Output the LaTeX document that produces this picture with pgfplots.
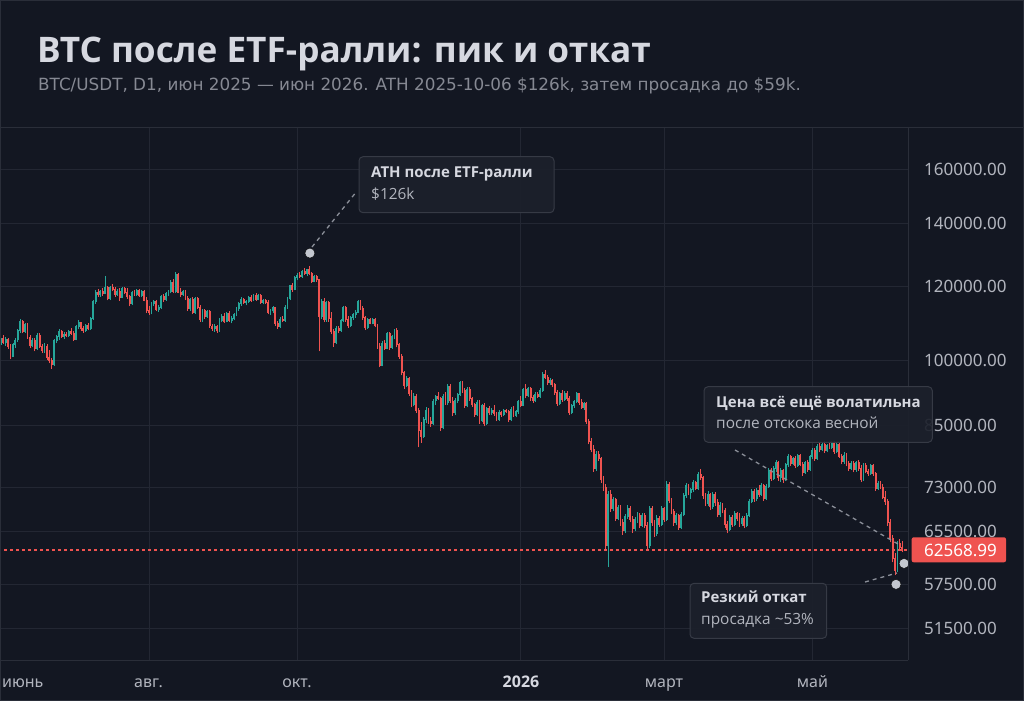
\documentclass[border=0pt]{standalone}
\usepackage{fontspec}
\setmainfont{Open Sans}
\newfontfamily\noto{Noto Sans}
\newfontfamily\dejavu{DejaVu Sans}
\usepackage{pgfplots}
\usepackage{pgfplotstable}
\pgfplotsset{compat=1.18}
\definecolor{bg}{HTML}{131722}
\definecolor{gridc}{HTML}{232733}
\definecolor{borderc}{HTML}{2A2E39}
\definecolor{cup}{HTML}{26A69A}
\definecolor{cdn}{HTML}{EF5350}
\definecolor{titlec}{HTML}{D6D8E0}
\definecolor{subc}{HTML}{868993}
\definecolor{tickc}{HTML}{B2B5BE}
\definecolor{boxfill}{HTML}{1C202B}
\definecolor{boxline}{HTML}{363A45}
\definecolor{dotc}{HTML}{C3C7CF}
\definecolor{leadc}{HTML}{8B8F99}

% daily candles: day index from 2025-06-01, open, high, low, close (thousand USD)
\pgfplotstableread{
d o h l c
0 104.0 106.0 103.0 105.5
1 105.5 106.3 104.0 104.4
2 104.4 105.8 103.6 105.2
3 105.2 105.6 102.9 103.3
4 103.3 104.0 100.2 101.0
5 101.0 104.3 100.8 104.0
6 104.0 105.6 103.0 105.1
7 105.1 108.0 104.6 107.6
8 107.6 110.6 107.0 110.0
9 110.0 110.3 106.8 107.4
10 107.4 109.6 106.9 109.2
11 109.2 109.5 105.4 105.8
12 105.8 106.4 103.0 103.6
13 103.6 105.6 103.2 105.0
14 105.0 105.5 102.2 102.8
15 102.8 106.8 102.5 106.3
16 106.3 107.0 103.0 103.4
17 103.4 104.1 101.8 102.4
18 102.4 104.2 101.9 103.5
19 103.5 104.0 100.0 100.6
20 100.6 102.5 99.2 99.8
21 99.8 100.5 97.9 98.9
22 98.9 105.4 98.6 105.0
23 105.0 106.5 104.3 106.1
24 106.1 108.0 105.0 107.4
25 107.4 107.7 105.6 106.0
26 106.0 107.1 105.3 106.6
27 106.6 107.2 105.8 106.2
28 106.2 107.6 105.9 107.2
29 107.2 108.3 106.5 106.9
30 106.9 107.5 104.8 105.3
31 105.3 109.0 105.0 108.6
32 108.6 110.4 107.9 109.7
33 109.7 110.0 107.5 108.1
34 108.1 108.8 107.0 107.7
35 107.7 109.3 107.2 108.9
36 108.9 109.6 107.6 108.0
37 108.0 111.3 107.8 110.9
38 110.9 116.0 110.5 115.6
39 115.6 118.8 115.0 118.2
40 118.2 119.3 117.0 117.6
41 117.6 119.0 116.9 118.5
42 118.5 119.5 117.3 118.0
43 118.0 123.2 117.6 119.8
44 119.8 120.2 115.9 116.5
45 116.5 120.0 116.0 119.6
46 119.6 120.6 118.5 119.2
47 119.2 119.9 117.0 117.7
48 117.7 119.3 117.2 118.6
49 118.6 119.6 115.8 116.8
50 116.8 119.8 116.5 119.4
51 119.4 119.9 117.8 118.3
52 118.3 119.5 116.4 116.9
53 116.9 117.5 114.2 114.9
54 114.9 118.6 114.6 118.2
55 118.2 119.0 117.1 117.6
56 117.6 119.2 117.2 118.8
57 118.8 119.3 116.9 117.3
58 117.3 118.9 116.8 118.5
59 118.5 118.8 115.6 116.0
60 116.0 116.8 112.4 113.0
61 113.0 114.4 111.9 112.4
62 112.4 115.5 112.0 115.1
63 115.1 116.0 114.4 115.6
64 115.6 116.0 112.8 113.3
65 113.3 114.5 112.6 114.0
66 114.0 117.5 113.6 117.0
67 117.0 117.8 115.5 116.1
68 116.1 118.4 115.8 117.9
69 117.9 119.0 117.2 118.5
70 118.5 121.8 117.9 121.2
71 121.2 122.3 117.9 118.4
72 118.4 124.2 118.0 123.5
73 123.5 124.0 117.9 118.3
74 118.3 119.4 117.0 117.6
75 117.6 119.0 117.1 118.6
76 118.6 118.9 116.0 116.4
77 116.4 117.2 112.9 113.5
78 113.5 116.5 113.0 116.1
79 116.1 116.8 112.0 112.6
80 112.6 116.9 112.2 116.4
81 116.4 116.8 113.4 113.9
82 113.9 114.5 110.0 110.6
83 110.6 113.4 110.0 112.9
84 112.9 113.5 110.8 111.3
85 111.3 113.2 110.9 112.8
86 112.8 113.2 108.3 108.8
87 108.8 109.2 107.5 108.0
88 108.0 109.3 107.2 108.7
89 108.7 109.0 107.0 107.5
90 107.5 111.0 107.2 110.4
91 110.4 112.0 109.8 111.5
92 111.5 112.3 109.6 110.0
93 110.0 112.6 109.8 112.1
94 112.1 112.9 109.9 110.4
95 110.4 111.4 109.5 110.9
96 110.9 112.4 110.3 111.9
97 111.9 113.9 111.4 113.5
98 113.5 115.4 113.0 114.9
99 114.9 116.8 114.3 116.3
100 116.3 116.7 114.8 115.2
101 115.2 116.0 114.5 115.6
102 115.6 117.3 115.1 116.8
103 116.8 117.4 115.4 116.0
104 116.0 117.8 115.7 117.4
105 117.4 118.0 115.8 116.2
106 116.2 117.8 115.9 117.3
107 117.3 117.6 114.9 115.4
108 115.4 116.4 114.8 116.0
109 116.0 116.3 114.9 115.4
110 115.4 115.9 112.0 112.6
111 112.6 113.4 111.8 112.9
112 112.9 114.3 112.4 113.8
113 113.8 114.0 108.9 109.6
114 109.6 110.1 108.0 108.7
115 108.7 111.2 108.3 110.6
116 110.6 111.5 109.8 110.3
117 110.3 114.5 110.0 114.0
118 114.0 117.0 113.5 116.5
119 116.5 120.5 116.0 120.1
120 120.1 121.0 118.4 119.1
121 119.1 123.0 118.8 122.6
122 122.6 124.0 121.8 123.4
123 123.4 124.4 122.4 122.9
124 122.9 125.0 122.5 124.5
125 124.5 125.5 123.4 124.0
126 124.0 125.4 123.0 125.0
127 125.0 126.2 123.3 123.8
128 123.8 124.3 121.0 121.5
129 121.5 123.5 121.2 123.0
130 123.0 123.5 121.4 122.0
131 122.0 122.3 102.2 111.5
132 111.5 116.2 110.6 115.5
133 115.5 116.5 109.8 110.5
134 110.5 115.8 110.0 115.2
135 115.2 115.6 110.0 110.8
136 110.8 112.6 106.6 107.2
137 107.2 108.0 103.3 104.5
138 104.5 108.8 104.0 108.2
139 108.2 108.8 106.8 107.6
140 107.6 110.6 107.2 110.2
141 110.2 114.3 109.8 113.8
142 113.8 114.3 110.0 110.6
143 110.6 111.4 108.2 108.8
144 108.8 111.6 108.5 111.2
145 111.2 112.4 110.5 111.9
146 111.9 113.1 111.1 112.6
147 112.6 115.9 112.3 115.5
148 115.5 116.0 113.2 113.7
149 113.7 114.4 110.5 111.0
150 111.0 111.5 107.7 108.3
151 108.3 111.0 108.0 110.5
152 110.5 111.1 109.2 109.6
153 109.6 111.0 109.2 110.5
154 110.5 110.9 108.4 108.8
155 108.8 109.2 102.8 103.5
156 103.5 104.2 98.2 98.7
157 98.7 104.8 98.5 104.3
158 104.3 105.0 102.5 103.0
159 103.0 107.3 102.7 106.8
160 106.8 107.3 102.6 103.2
161 103.2 106.5 102.8 105.9
162 105.9 108.0 105.3 107.6
163 107.6 108.2 103.2 103.9
164 103.9 104.4 100.4 101.0
165 101.0 101.5 96.3 96.9
166 96.9 97.4 93.2 94.0
167 94.0 96.2 93.5 95.6
168 95.6 96.0 91.5 92.1
169 92.1 92.8 89.0 89.6
170 89.6 92.2 89.2 91.5
171 91.5 92.0 87.8 88.4
172 88.4 88.9 80.6 84.0
173 84.0 85.8 81.5 82.9
174 82.9 86.8 82.5 86.3
175 86.3 89.0 85.6 88.3
176 88.3 88.8 85.5 86.0
177 86.0 86.8 84.8 85.6
178 85.6 90.9 85.3 90.4
179 90.4 91.8 89.6 91.3
180 91.3 92.4 90.6 91.0
181 91.0 91.4 83.9 84.6
182 84.6 92.0 84.3 91.5
183 91.5 92.5 89.5 90.0
184 90.0 94.2 89.6 93.8
185 93.8 94.3 89.9 90.4
186 90.4 91.3 87.2 87.8
187 87.8 91.0 87.4 90.6
188 90.6 92.3 89.9 91.8
189 91.8 95.0 91.5 94.6
190 94.6 95.0 92.3 92.8
191 92.8 93.4 88.8 89.3
192 89.3 93.6 89.0 93.1
193 93.1 93.5 90.4 90.9
194 90.9 91.4 89.1 89.6
195 89.6 90.0 86.9 87.5
196 87.5 90.6 87.1 90.1
197 90.1 90.7 85.5 86.1
198 86.1 89.8 85.8 89.4
199 89.4 89.9 84.9 85.5
200 85.5 89.1 85.2 88.8
201 88.8 89.2 87.3 87.8
202 87.8 88.8 87.4 88.4
203 88.4 89.4 87.2 87.6
204 87.6 87.9 86.0 86.4
205 86.4 88.4 86.1 87.9
206 87.9 88.2 87.0 87.4
207 87.4 88.6 87.1 88.3
208 88.3 88.7 87.7 88.0
209 88.0 88.4 85.8 86.3
210 86.3 89.0 86.0 88.6
211 88.6 89.3 86.9 87.3
212 87.3 88.4 86.8 88.0
213 88.0 90.6 87.6 90.3
214 90.3 91.5 89.0 89.5
215 89.5 93.4 89.2 93.0
216 93.0 94.3 91.0 91.6
217 91.6 93.6 91.2 93.2
218 93.2 93.5 90.5 91.1
219 91.1 91.8 90.0 90.6
220 90.6 92.4 90.2 91.9
221 91.9 92.5 91.0 91.4
222 91.4 93.4 91.1 92.8
223 92.8 97.2 92.5 96.6
224 96.6 97.7 95.4 95.9
225 95.9 96.4 94.0 94.6
226 94.6 95.7 94.1 95.1
227 95.1 95.4 93.5 94.1
228 94.1 94.6 91.8 92.3
229 92.3 92.9 89.3 89.9
230 89.9 92.5 89.5 92.1
231 92.1 92.8 90.2 90.8
232 90.8 92.6 90.4 92.2
233 92.2 92.6 90.5 91.0
234 91.0 91.6 87.3 87.9
235 87.9 89.7 87.5 89.4
236 89.4 90.6 88.9 90.2
237 90.2 92.4 89.9 92.0
238 92.0 92.3 89.6 90.1
239 90.1 90.8 88.6 89.0
240 89.0 90.2 88.5 89.8
241 89.8 90.1 85.4 86.0
242 86.0 86.5 81.2 81.8
243 81.8 82.4 79.6 80.2
244 80.2 81.0 75.9 76.5
245 76.5 79.8 76.0 79.3
246 79.3 79.8 77.9 78.4
247 78.4 78.8 73.8 74.5
248 74.5 75.2 72.4 73.0
249 73.0 73.6 62.4 63.2
250 63.2 72.4 60.0 71.8
251 71.8 72.6 68.8 69.4
252 69.4 71.3 68.9 70.8
253 70.8 71.2 67.2 67.7
254 67.7 70.0 67.3 69.5
255 69.5 69.9 66.4 66.9
256 66.9 67.5 65.0 65.6
257 65.6 68.4 65.2 68.0
258 68.0 69.9 67.6 69.4
259 69.4 69.8 67.0 67.5
260 67.5 68.0 65.3 65.9
261 65.9 67.9 65.5 67.4
262 67.4 68.7 66.9 68.2
263 68.2 68.6 66.0 66.5
264 66.5 68.6 66.2 68.2
265 68.2 68.6 66.0 66.5
266 66.5 67.0 62.5 63.2
267 63.2 69.8 62.9 69.3
268 69.3 69.7 66.4 66.9
269 66.9 67.4 64.6 65.1
270 65.1 68.2 64.8 67.7
271 67.7 68.1 66.3 66.7
272 66.7 69.8 66.4 69.3
273 69.3 69.6 67.1 67.5
274 67.5 74.1 67.2 73.6
275 73.6 74.0 70.2 70.7
276 70.7 71.2 68.3 68.8
277 68.8 69.3 66.4 66.9
278 66.9 68.5 66.5 68.1
279 68.1 68.4 65.7 66.2
280 66.2 68.7 65.9 68.3
281 68.3 72.0 68.0 71.6
282 71.6 73.8 71.2 73.3
283 73.3 73.7 71.6 72.1
284 72.1 73.0 71.0 72.6
285 72.6 74.4 72.2 73.9
286 73.9 74.2 72.5 72.9
287 72.9 75.8 72.6 75.3
288 75.3 76.5 74.4 74.8
289 74.8 75.2 71.0 71.5
290 71.5 72.0 69.7 70.2
291 70.2 72.3 69.8 71.8
292 71.8 72.1 69.1 69.6
293 69.6 72.2 69.3 71.8
294 71.8 72.2 69.8 70.3
295 70.3 71.0 67.8 68.3
296 68.3 70.4 67.9 69.9
297 69.9 70.3 68.5 69.0
298 69.0 69.4 66.0 66.6
299 66.6 67.2 65.2 65.8
300 65.8 68.2 65.5 67.8
301 67.8 68.2 66.2 66.7
302 66.7 68.9 66.4 68.4
303 68.4 68.8 67.2 67.7
304 67.7 68.5 66.3 66.8
305 66.8 68.0 66.4 67.6
306 67.6 68.1 66.0 66.5
307 66.5 68.6 66.2 68.2
308 68.2 71.0 67.9 70.6
309 70.6 72.8 70.2 72.3
310 72.3 72.7 70.5 71.0
311 71.0 72.9 70.6 72.5
312 72.5 73.4 71.4 71.8
313 71.8 73.8 71.5 73.4
314 73.4 73.7 70.6 71.1
315 71.1 73.6 70.8 73.2
316 73.2 76.6 72.9 76.1
317 76.1 76.6 74.2 74.7
318 74.7 77.0 74.3 76.5
319 76.5 78.1 75.9 77.6
320 77.6 77.9 74.2 74.8
321 74.8 76.6 74.0 76.1
322 76.1 76.5 73.9 74.4
323 74.4 77.6 74.1 77.2
324 77.2 79.3 76.8 78.8
325 78.8 79.2 77.0 77.5
326 77.5 78.8 77.1 78.4
327 78.4 78.9 76.6 77.1
328 77.1 79.4 76.8 79.0
329 79.0 79.3 76.9 77.3
330 77.3 77.8 75.2 75.8
331 75.8 78.0 75.5 77.6
332 77.6 78.2 75.9 76.3
333 76.3 79.2 76.0 78.8
334 78.8 80.4 78.4 80.0
335 80.0 80.4 78.0 78.5
336 78.5 81.2 78.2 80.8
337 80.8 81.5 79.6 80.1
338 80.1 81.6 79.8 81.2
339 81.2 81.8 79.5 79.9
340 79.9 81.3 79.6 80.9
341 80.9 81.4 80.2 80.6
342 80.6 81.9 80.3 81.5
343 81.5 81.8 79.4 79.8
344 79.8 81.5 79.5 81.1
345 81.1 81.5 78.5 78.9
346 78.9 79.4 77.3 77.8
347 77.8 79.6 77.4 79.1
348 79.1 79.5 76.9 77.4
349 77.4 78.0 76.0 76.5
350 76.5 77.9 76.2 77.5
351 77.5 77.9 75.8 76.3
352 76.3 78.0 75.9 77.6
353 77.6 78.1 76.1 76.6
354 76.6 77.2 74.0 74.5
355 74.5 77.5 74.2 77.1
356 77.1 77.6 75.6 76.0
357 76.0 76.4 75.2 75.6
358 75.6 77.4 75.3 77.0
359 77.0 77.4 75.1 75.5
360 75.5 75.9 72.4 72.9
361 72.9 74.1 72.6 73.8
362 73.8 74.2 72.7 73.1
363 73.1 73.6 70.9 71.3
364 71.3 72.3 70.0 70.5
365 70.5 70.9 66.4 67.0
366 67.0 67.6 63.8 64.4
367 64.4 65.0 60.7 61.3
368 61.3 62.1 58.8 59.5
369 59.5 64.0 59.2 63.6
370 63.6 64.3 62.5 63.0
371 63.0 64.0 62.2 62.569
}\btc

\pgfplotstableread{
d p
127.2 130.24
371.7 60.53
368.4 57.48
}\anndots

\pgfplotstableread{
d p
-1 62.569
375 62.569
}\lastline

% reshape: three rows per candle (bottom, top, gap) so each series is one path
\newcount\segk
\newcommand\segval[2]{%
  \segk=\pgfplotstablerow\relax
  \divide\segk by 3\relax
  \edef\kk{\the\segk}%
  \edef\mm{\the\numexpr\pgfplotstablerow-3*\segk\relax}%
  \pgfplotstablegetelem{\kk}{o}\of\btc\let\vo\pgfplotsretval
  \pgfplotstablegetelem{\kk}{c}\of\btc\let\vc\pgfplotsretval
  \pgfplotstablegetelem{\kk}{h}\of\btc\let\vh\pgfplotsretval
  \pgfplotstablegetelem{\kk}{l}\of\btc\let\vl\pgfplotsretval
  \pgfmathtruncatemacro\isup{\vc>=\vo}%
  \def\segresult{nan}%
  \ifnum\isup=#1\relax
    \ifnum\mm<2\relax
      \if w#2%
        \ifnum\mm=0 \pgfmathparse{ln(\vl)}\else\pgfmathparse{ln(\vh)}\fi
      \else
        \ifnum\mm=0 \pgfmathparse{ln(min(\vo,\vc))-0.0012}\else\pgfmathparse{ln(max(\vo,\vc))+0.0012}\fi
      \fi
      \let\segresult\pgfmathresult
    \fi
  \fi
  \pgfkeyslet{/pgfplots/table/create col/next content}\segresult}

\pgfplotstablenew[
  create on use/x/.style={create col/assign/.code={%
    \segk=\pgfplotstablerow\relax\divide\segk by 3\relax
    \pgfplotstablegetelem{\the\segk}{d}\of\btc
    \pgfkeyslet{/pgfplots/table/create col/next content}\pgfplotsretval}},
  create on use/wu/.style={create col/assign/.code={\segval{1}{w}}},
  create on use/wd/.style={create col/assign/.code={\segval{0}{w}}},
  create on use/bu/.style={create col/assign/.code={\segval{1}{b}}},
  create on use/bd/.style={create col/assign/.code={\segval{0}{b}}},
  columns={x,wu,wd,bu,bd}]{1116}\segs

\begin{document}
\begin{tikzpicture}[x=1pt,y=1pt]
\fill[bg] (0,0) rectangle (1024,701);
\useasboundingbox (0,0) rectangle (1024,701);
% header
\node[anchor=base west, inner sep=0pt, text=titlec, font=\bfseries\fontsize{35.2}{40}\selectfont] at (37,638) {BTC после ETF-ралли: пик и откат};
\node[anchor=base west, inner sep=0pt, text=subc, font=\dejavu\fontsize{16.8}{20}\selectfont] at (38,610) {BTC/USDT, D1, июн 2025 — июн 2026. ATH 2025-10-06 \$126k, затем просадка до \$59k.};
\draw[borderc, line width=1pt] (0,573) -- (1024,573);

\begin{axis}[
  at={(0pt,41pt)}, anchor=south west,
  width=908pt, height=532pt, scale only axis,
  xmin=-0.33, xmax=373.33,
  ymin=3.864512, ymax=5.178409,
  axis line style={draw=none},
  tick style={draw=none},
  clip mode=individual,
  xtick={0,61,122,214,273,334},
  xticklabels={,,,,,},
  ytick={3.941582,4.051785,4.182050,4.290459,4.442651,4.605170,4.787492,4.941642,5.075174},
  yticklabels={51500.00,57500.00,65500.00,73000.00,85000.00,100000.00,120000.00,140000.00,160000.00},
  yticklabel pos=right,
  yticklabel style={anchor=west, inner sep=0pt, xshift=16pt, text=tickc, font=\noto\fontsize{17}{17}\selectfont},
  grid=major,
  major grid style={draw=gridc, line width=1pt},
  unbounded coords=jump,
]
% last price line
\addplot[cdn, line width=1.2pt, dash pattern=on 3pt off 3pt, forget plot] table[x=d, y expr={ln(\thisrow{p})}] {\lastline};
% wicks
\addplot[cup, line width=0.9pt, forget plot, mark=none] table[x=x, y=wu] {\segs};
\addplot[cdn, line width=0.9pt, forget plot, mark=none] table[x=x, y=wd] {\segs};
% bodies
\addplot[cup, line width=1.9pt, forget plot, mark=none] table[x=x, y=bu] {\segs};
\addplot[cdn, line width=1.9pt, forget plot, mark=none] table[x=x, y=bd] {\segs};
% annotation dots
\addplot[only marks, mark=*, mark size=5pt, mark options={fill=dotc, draw=none}, forget plot] table[x=d, y expr={ln(\thisrow{p})}] {\anndots};
\end{axis}

% frame lines
\draw[borderc, line width=1pt] (0,41) -- (908,41);
\draw[borderc, line width=1pt] (908,41) -- (908,573);
\draw[borderc, line width=1pt] (0.5,0.5) rectangle (1023.5,700.5);

% x labels
\begin{scope}[every node/.style={inner sep=0pt, text=tickc, font=\noto\fontsize{16}{16}\selectfont}]
\node[anchor=base west] at (2,14) {июнь};
\node[anchor=base] at (148.5,14) {авг.};
\node[anchor=base] at (297,14) {окт.};
\node[anchor=base, text=titlec, font=\bfseries\fontsize{16}{16}\selectfont] at (521,14) {2026};
\node[anchor=base] at (664,14) {март};
\node[anchor=base] at (812.5,14) {май};
\end{scope}

% leader lines
\begin{scope}[leadc, line width=1.3pt, dash pattern=on 4pt off 4pt]
\draw (312,454) -- (357,510);
\draw (735,251) -- (898,157);
\draw (865,119) -- (897,128);
\end{scope}

% annotation boxes
\begin{scope}[every node/.style={inner sep=0pt, anchor=base west}]
\filldraw[fill=boxfill, fill opacity=0.92, draw=boxline, line width=1pt, rounded corners=4pt] (359,488.3) rectangle (554,544.3);
\node[text=titlec, font=\bfseries\fontsize{15}{16}\selectfont] at (371,523.3) {ATH после ETF-ралли};
\node[text=tickc, font=\fontsize{15.4}{16}\selectfont] at (371,501.7) {\$126k};

\filldraw[fill=boxfill, fill opacity=0.92, draw=boxline, line width=1pt, rounded corners=4pt] (704,258.7) rectangle (932.3,314.3);
\node[text=titlec, font=\bfseries\fontsize{15}{16}\selectfont] at (716,293.7) {Цена всё ещё волатильна};
\node[text=tickc, font=\fontsize{15.4}{16}\selectfont] at (716,272.7) {после отскока весной};

\filldraw[fill=boxfill, fill opacity=0.92, draw=boxline, line width=1pt, rounded corners=4pt] (690,62.7) rectangle (826.7,117.7);
\node[text=titlec, font=\bfseries\fontsize{15}{16}\selectfont] at (701,98.3) {Резкий откат};
\node[text=tickc, font=\fontsize{15.4}{16}\selectfont] at (701,76.7) {просадка \textasciitilde53\%};
\end{scope}

% last price tag
\fill[cdn, rounded corners=2pt] (911.7,138.7) rectangle (1006,163.7);
\node[anchor=base west, inner sep=0pt, text=white, font=\noto\fontsize{17}{17}\selectfont] at (924,144.3) {62568.99};
\end{tikzpicture}
\end{document}
